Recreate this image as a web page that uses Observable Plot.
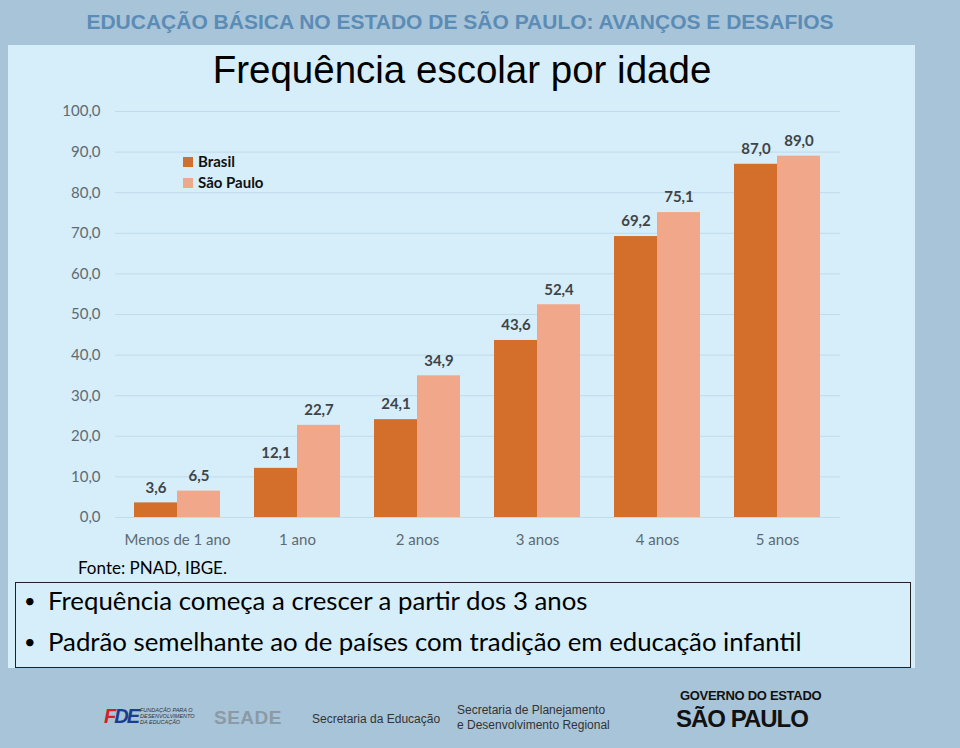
<!DOCTYPE html>
<html><head><meta charset="utf-8">
<script src="https://cdn.jsdelivr.net/npm/d3@7"></script>
<script src="https://cdn.jsdelivr.net/npm/@observablehq/plot@0.6"></script>
<style>
html,body{margin:0;padding:0;}
body{width:960px;height:748px;background:#a8c4d8;position:relative;overflow:hidden;font-family:Lato,"Open Sans",sans-serif;}
#hdr{position:absolute;left:0;width:920px;top:10px;text-align:center;font-family:"Liberation Sans Narrow","Liberation Sans",Arial,sans-serif;font-weight:bold;font-size:21px;color:#5b8cb6;}
#panel{position:absolute;left:8px;top:45px;width:907px;height:623px;background:#d5eefa;}
#title{position:absolute;left:0;width:924px;top:48px;text-align:center;font-family:"Liberation Sans",Arial,sans-serif;font-size:38.5px;color:#000;}
.abs{position:absolute;}
#legend div{position:absolute;font-weight:bold;font-size:15px;color:#111;white-space:nowrap;}
#legend span{display:inline-block;width:10px;height:10px;margin-right:5px;vertical-align:0px;}
#fonte{left:78px;top:557px;font-size:17px;color:#000;}
#box{position:absolute;left:15px;top:582px;width:894px;height:84px;border:1.5px solid #222;}
.bul{position:absolute;left:8px;font-size:25.8px;color:#000;white-space:nowrap;}
.bul:before{content:"•";position:absolute;left:0px;font-size:20px;top:3px;}
.bul span{position:absolute;left:24px;}
#footer div{position:absolute;white-space:nowrap;line-height:1;}
</style></head><body>
<div id="hdr">EDUCAÇÃO BÁSICA NO ESTADO DE SÃO PAULO: AVANÇOS E DESAFIOS</div>
<div id="panel"></div>
<div id="title">Frequência escolar por idade</div>
<div id="gridplot" class="abs" style="left:0;top:95px;"></div>
<div id="barplot" class="abs" style="left:0;top:95px;"></div>
<div id="legend"></div>
<div id="fonte" class="abs">Fonte: PNAD, IBGE.</div>
<div id="box">
  <div class="bul" style="top:2px;"><span>Frequência começa a crescer a partir dos 3 anos</span></div>
  <div class="bul" style="top:43px;"><span>Padrão semelhante ao de países com tradição em educação infantil</span></div>
</div>
<div id="footer">
  <div style="left:104px;top:706px;font-family:'Liberation Sans',Arial;font-weight:bold;font-style:italic;font-size:20px;letter-spacing:-2px;"><span style="color:#d42027">F</span><span style="color:#1b3d8f">DE</span></div>
  <div style="left:140px;top:707px;font-family:'Liberation Sans Narrow',Arial;font-size:5.5px;line-height:6px;color:#333;font-style:italic;">FUNDAÇÃO PARA O<br>DESENVOLVIMENTO<br>DA EDUCAÇÃO</div>
  <div style="left:214px;top:708px;font-family:'Liberation Sans',Arial;font-weight:bold;font-size:19px;color:#8a9aa6;letter-spacing:0.5px;">SEADE</div>
  <div style="left:312px;top:713px;font-family:'Liberation Sans Narrow',Arial;font-size:12px;color:#333;">Secretaria da Educação</div>
  <div style="left:457px;top:703px;font-family:'Liberation Sans Narrow',Arial;font-size:12px;line-height:15px;color:#333;">Secretaria de Planejamento<br>e Desenvolvimento Regional</div>
  <div style="left:680px;top:689px;font-family:'Liberation Sans',Arial;font-weight:bold;font-size:13px;color:#111;letter-spacing:-0.3px;">GOVERNO DO ESTADO</div>
  <div style="left:676px;top:707px;font-family:'Liberation Sans',Arial;font-weight:bold;font-size:24px;color:#111;letter-spacing:-1px;">SÃO PAULO</div>
</div>
<script>
const categories = ["Menos de 1 ano","1 ano","2 anos","3 anos","4 anos","5 anos"];
const seriesNames = ["Brasil","São Paulo"];
const brasil = [3.6,12.1,24.1,43.6,69.2,87.0];
const saoPaulo = [6.5,22.7,34.9,52.4,75.1,89.0];
const yTicks = [0,10,20,30,40,50,60,70,80,90,100];
const colors = ["#d46f2b","#f1a88a"];

const data = [];
categories.forEach((c,i)=>{
  data.push({cat:c, serie:seriesNames[0], v:brasil[i]});
  data.push({cat:c, serie:seriesNames[1], v:saoPaulo[i]});
});
const fmt = d => d.toFixed(1).replace(".", ",");

const W = 960, H = 470, mt = 16, mb = 48, ml = 115, mr = 120;

const grid = Plot.plot({
  width: W, height: H, marginTop: mt, marginBottom: mb, marginLeft: ml, marginRight: mr,
  style: {background: "transparent", fontFamily: "Lato, 'Open Sans', sans-serif", fontSize: "15px", color: "#5f6a72"},
  y: {domain: [0,100], ticks: yTicks, tickFormat: fmt, tickSize: 0, tickPadding: 15, label: null},
  marks: [
    Plot.ruleY(yTicks, {stroke: "#c2dbea", strokeWidth: 1}),
    Plot.axisY({ticks: yTicks, tickFormat: fmt, tickSize: 0, tickPadding: 15, label: null, fill: "#5f6a72"})
  ]
});
document.getElementById("gridplot").appendChild(grid);

const bars = Plot.plot({
  width: W, height: H, marginTop: mt, marginBottom: mb, marginLeft: ml, marginRight: mr,
  style: {background: "transparent", fontFamily: "Lato, 'Open Sans', sans-serif", fontSize: "15px", color: "#5f6a72"},
  fx: {domain: categories, paddingInner: 0.28, paddingOuter: 0.14, label: null, axis: null},
  x: {domain: seriesNames, padding: 0, axis: null},
  y: {domain: [0,100], axis: null},
  color: {domain: seriesNames, range: colors},
  marks: [
    Plot.barY(data, {fx: "cat", x: "serie", y: "v", fill: "serie"}),
    Plot.text(data, {fx: "cat", x: "serie", y: "v", text: d => fmt(d.v), dy: -15, fill: "#3f4448", fontWeight: "bold", fontSize: 15}),
    Plot.axisFx({domain: categories, anchor: "bottom", tickSize: 0, tickPadding: 17, label: null, fill: "#5f6a72", fontSize: 15})
  ]
});
document.getElementById("barplot").appendChild(bars);

const lg = document.getElementById("legend");
seriesNames.forEach((s,i)=>{
  const d = document.createElement("div");
  d.style.left = "183px";
  d.style.top = (152 + i*21) + "px";
  d.innerHTML = `<span style="background:${colors[i]}"></span>${s}`;
  lg.appendChild(d);
});
</script>
</body></html>
